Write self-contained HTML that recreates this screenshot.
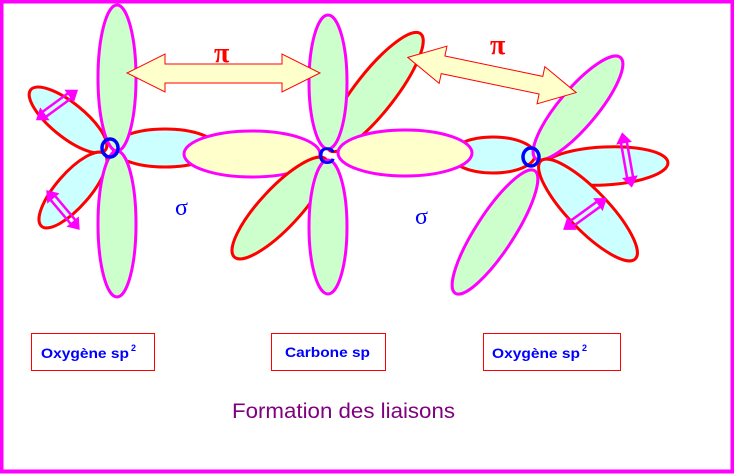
<!DOCTYPE html>
<html><head><style>html,body{margin:0;padding:0;background:#fff}svg{display:block}</style></head>
<body>
<svg width="734" height="474" viewBox="0 0 734 474" xmlns="http://www.w3.org/2000/svg">
<rect x="1.5" y="1.5" width="731" height="470" fill="#fff" stroke="#ff00ff" stroke-width="4"/>
<g stroke-width="3">
<!-- left O -->
<ellipse cx="68" cy="120" rx="48" ry="17" transform="rotate(39 68 120)" fill="#ccffff" stroke="#ff0000"/>
<ellipse cx="73" cy="190" rx="48" ry="17" transform="rotate(-49 73 190)" fill="#ccffff" stroke="#ff0000"/>
<ellipse cx="165" cy="148" rx="52" ry="19" fill="#ccffff" stroke="#ff0000"/>
<ellipse cx="117" cy="78" rx="19" ry="73" fill="#ccffcc" stroke="#ff00ff"/>
<ellipse cx="117" cy="224" rx="19" ry="73" fill="#ccffcc" stroke="#ff00ff"/>
<ellipse cx="252" cy="154" rx="68" ry="23" fill="#ffffcc" stroke="#ff00ff"/>
<!-- C -->
<ellipse cx="375" cy="92" rx="74" ry="20" transform="rotate(-52 375 92)" fill="#ccffcc" stroke="#ff0000"/>
<ellipse cx="280" cy="208" rx="67" ry="20" transform="rotate(-47 280 208)" fill="#ccffcc" stroke="#ff0000"/>
<ellipse cx="328" cy="82" rx="19" ry="67" fill="#ccffcc" stroke="#ff00ff"/>
<ellipse cx="328" cy="227" rx="19" ry="67" fill="#ccffcc" stroke="#ff00ff"/>
<ellipse cx="493" cy="155" rx="42" ry="18" fill="#ccffff" stroke="#ff0000"/>
<ellipse cx="405" cy="153" rx="67" ry="23" fill="#ffffcc" stroke="#ff00ff"/>
<!-- right O -->
<ellipse cx="604" cy="166" rx="64" ry="19" transform="rotate(-3 604 166)" fill="#ccffff" stroke="#ff0000"/>
<ellipse cx="578" cy="108" rx="66" ry="19" transform="rotate(-50 578 108)" fill="#ccffcc" stroke="#ff00ff"/>
<ellipse cx="495" cy="232" rx="73" ry="19" transform="rotate(-57 495 232)" fill="#ccffcc" stroke="#ff00ff"/>
<ellipse cx="588" cy="210" rx="68" ry="20" transform="rotate(46 588 210)" fill="#ccffff" stroke="#ff0000"/>
</g>
<!-- atoms -->
<ellipse cx="110" cy="148" rx="8" ry="9" fill="none" stroke="#0000ff" stroke-width="3.5"/>
<text x="318" y="164" font-family="Liberation Sans, sans-serif" font-weight="bold" font-size="24" fill="#0000ff">C</text>
<ellipse cx="531" cy="157" rx="8" ry="9" fill="none" stroke="#0000ff" stroke-width="3.5"/>
<!-- pi arrows -->
<polygon points="127,73 165,54 165,64 282,64 282,54 320,73 282,92 282,83 165,83 165,92" fill="#ffffcc" stroke="#ff0000" stroke-width="1"/>
<g transform="translate(492 75) rotate(11.8)">
<polygon points="-86,0 -50,-19 -50,-9 50,-9 50,-19 86,0 50,19 50,9 -50,9 -50,19" fill="#ffffcc" stroke="#ff0000" stroke-width="1"/>
</g>
<text x="214" y="62" font-family="Liberation Serif, serif" font-weight="bold" font-size="28" fill="#ff0000">π</text>
<text x="490" y="54" font-family="Liberation Serif, serif" font-weight="bold" font-size="28" fill="#ff0000">π</text>
<text x="175" y="215" font-family="Liberation Serif, serif" font-size="24" fill="#0000ff">σ</text>
<text x="415" y="224" font-family="Liberation Serif, serif" font-size="24" fill="#0000ff">σ</text>
<!-- magenta double arrows -->
<g stroke="#ff00ff" stroke-width="2.5" fill="#ff00ff">
<g transform="translate(57 105) rotate(-36)"><line x1="-16" y1="-3" x2="16" y2="-3"/><line x1="-16" y1="3" x2="16" y2="3"/><polygon points="-26,0 -15,-8 -15,8" stroke="none"/><polygon points="26,0 15,-8 15,8" stroke="none"/></g>
<g transform="translate(63 210) rotate(50)"><line x1="-16" y1="-3" x2="16" y2="-3"/><line x1="-16" y1="3" x2="16" y2="3"/><polygon points="-26,0 -15,-8 -15,8" stroke="none"/><polygon points="26,0 15,-8 15,8" stroke="none"/></g>
<g transform="translate(627 160) rotate(80)"><line x1="-18" y1="-3" x2="18" y2="-3"/><line x1="-18" y1="3" x2="18" y2="3"/><polygon points="-28,0 -17,-8 -17,8" stroke="none"/><polygon points="28,0 17,-8 17,8" stroke="none"/></g>
<g transform="translate(585 214) rotate(-36)"><line x1="-17" y1="-3" x2="17" y2="-3"/><line x1="-17" y1="3" x2="17" y2="3"/><polygon points="-27,0 -16,-8 -16,8" stroke="none"/><polygon points="27,0 16,-8 16,8" stroke="none"/></g>
</g>
<!-- labels -->
<g fill="none" stroke="#ff0000" stroke-width="1">
<rect x="31.5" y="333.5" width="123" height="37"/>
<rect x="271.5" y="333.5" width="114" height="37"/>
<rect x="483.5" y="333.5" width="137" height="37"/>
</g>
<g font-family="Liberation Sans, sans-serif" font-weight="bold" font-size="14" fill="#0000ff">
<text x="41" y="358" textLength="88" lengthAdjust="spacingAndGlyphs">Oxygène sp</text><text x="131" y="351" font-size="9">2</text>
<text x="285" y="357" textLength="85" lengthAdjust="spacingAndGlyphs">Carbone sp</text>
<text x="492" y="358" textLength="88" lengthAdjust="spacingAndGlyphs">Oxygène sp</text><text x="582" y="351" font-size="9">2</text>
</g>
<text x="232" y="418" font-family="Liberation Sans, sans-serif" font-size="21" fill="#800080" textLength="223" lengthAdjust="spacingAndGlyphs">Formation des liaisons</text>
</svg>
</body></html>
